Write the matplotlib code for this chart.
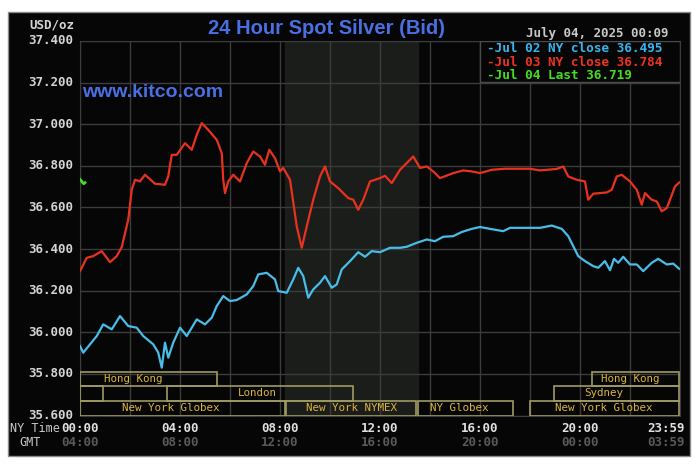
import matplotlib
matplotlib.use("Agg")
import matplotlib.pyplot as plt
from matplotlib.patches import Rectangle

# ---- data (hours NY time, USD/oz) ----
red_hours = [0.0, 0.27, 0.53, 0.87, 1.2, 1.47, 1.67, 1.93, 2.07, 2.2, 2.4, 2.6, 3.0, 3.4, 3.53,
             3.67, 3.87, 4.2, 4.47, 4.67, 4.87, 5.13, 5.47, 5.67, 5.73, 5.8, 5.93, 6.13, 6.4,
             6.67, 6.93, 7.2, 7.4, 7.57, 7.8, 8.0, 8.13, 8.4, 8.67, 8.87, 9.07, 9.33, 9.6, 9.8,
             10.0, 10.33, 10.73, 10.93, 11.13, 11.33, 11.6, 12.0, 12.2, 12.47, 12.8, 13.13,
             13.33, 13.6, 13.87, 14.13, 14.4, 14.93, 15.33, 15.67, 16.0, 16.47, 17.0, 18.0,
             18.4, 19.07, 19.33, 19.53, 19.87, 20.2, 20.33, 20.53, 21.07, 21.27, 21.47, 21.67,
             22.0, 22.27, 22.47, 22.6, 22.87, 23.07, 23.27, 23.47, 23.6, 23.8, 23.97]
red_vals = [36.294, 36.358, 36.366, 36.39, 36.337, 36.366, 36.41, 36.541, 36.685, 36.733,
            36.725, 36.757, 36.714, 36.709, 36.749, 36.853, 36.853, 36.909, 36.877, 36.949,
            37.005, 36.973, 36.925, 36.861, 36.733, 36.669, 36.725, 36.757, 36.725, 36.813,
            36.869, 36.845, 36.805, 36.877, 36.837, 36.773, 36.79, 36.733, 36.509, 36.406,
            36.509, 36.637, 36.749, 36.797, 36.725, 36.693, 36.645, 36.637, 36.589, 36.637,
            36.725, 36.741, 36.752, 36.717, 36.781, 36.821, 36.845, 36.79, 36.797, 36.773,
            36.741, 36.765, 36.778, 36.773, 36.765, 36.781, 36.786, 36.786, 36.778, 36.785,
            36.797, 36.749, 36.733, 36.725, 36.637, 36.666, 36.672, 36.685, 36.749, 36.757,
            36.725, 36.685, 36.613, 36.669, 36.637, 36.629, 36.581, 36.597, 36.637, 36.701,
            36.720]

blue_hours = [0.0, 0.13, 0.4, 0.67, 0.93, 1.27, 1.6, 1.93, 2.27, 2.53, 2.93, 3.13, 3.27, 3.4,
              3.53, 3.73, 4.0, 4.27, 4.67, 5.0, 5.27, 5.47, 5.73, 6.0, 6.27, 6.67, 6.93, 7.13,
              7.47, 7.8, 7.93, 8.27, 8.53, 8.73, 8.93, 9.13, 9.33, 9.6, 9.8, 10.07, 10.27,
              10.47, 10.8, 11.13, 11.4, 11.67, 12.0, 12.4, 12.8, 13.07, 13.47, 13.87, 14.2,
              14.53, 14.93, 15.27, 15.67, 16.0, 16.4, 16.93, 17.2, 18.4, 18.87, 19.27, 19.53,
              19.73, 19.93, 20.2, 20.53, 20.73, 21.0, 21.2, 21.36, 21.53, 21.73, 22.0, 22.27,
              22.53, 22.87, 23.13, 23.47, 23.73, 23.97]
blue_vals = [35.934, 35.902, 35.942, 35.982, 36.038, 36.014, 36.078, 36.030, 36.022, 35.982,
             35.942, 35.902, 35.830, 35.950, 35.878, 35.950, 36.022, 35.982, 36.062, 36.038,
             36.070, 36.126, 36.174, 36.150, 36.155, 36.182, 36.222, 36.278, 36.286, 36.254,
             36.198, 36.190, 36.254, 36.310, 36.270, 36.166, 36.206, 36.238, 36.270, 36.214,
             36.230, 36.302, 36.342, 36.385, 36.363, 36.390, 36.385, 36.406, 36.406, 36.411,
             36.430, 36.446, 36.438, 36.459, 36.462, 36.482, 36.497, 36.506, 36.497, 36.486,
             36.502, 36.502, 36.513, 36.497, 36.462, 36.414, 36.366, 36.342, 36.318, 36.310,
             36.342, 36.298, 36.353, 36.334, 36.363, 36.326, 36.326, 36.294, 36.334, 36.353,
             36.326, 36.330, 36.305]

green_hours = [0.0, 0.05, 0.1, 0.15, 0.2]
green_vals = [36.735, 36.728, 36.72, 36.714, 36.719]

legend_lines = ["-Jul 02 NY close 36.495", "-Jul 03 NY close 36.784", "-Jul 04 Last 36.719"]

y_ticks = [35.6, 35.8, 36.0, 36.2, 36.4, 36.6, 36.8, 37.0, 37.2, 37.4]
ny_ticks = ["00:00", "04:00", "08:00", "12:00", "16:00", "20:00", "23:59"]
gmt_ticks = ["04:00", "08:00", "12:00", "16:00", "20:00", "00:00", "03:59"]
tick_hours = [0, 4, 8, 12, 16, 20]

# sessions: (row, start, end, label, label centre)
sessions = [
    (2, 0.0, 5.48, "Hong Kong", 2.12),
    (2, 20.47, 23.97, "Hong Kong", 22.02),
    (1, 0.0, 0.93, "", 0),
    (1, 3.47, 10.93, "London", 7.1),
    (1, 18.96, 23.97, "Sydney", 20.96),
    (0, 0.0, 8.2, "New York Globex", 3.64),
    (0, 8.24, 13.44, "New York NYMEX", 10.88),
    (0, 13.53, 17.3, "NY Globex", 15.16),
    (0, 18.0, 23.97, "New York Globex", 20.94),
]
pit_start, pit_end = 8.2, 13.5

W, H = 700, 467
fx = lambda px: px / W
fy = lambda py: 1 - py / H

BG = "#060606"
GRID = "#3c3c3c"
MONO = "DejaVu Sans Mono"
BLUE, RED, GREEN = "#48bde8", "#e8321e", "#44dd22"

fig = plt.figure(figsize=(7, 4.67), dpi=100, facecolor="white")
fig.patches.append(Rectangle((fx(8), fy(456)), fx(682), 444 / H, transform=fig.transFigure,
                             facecolor=BG, edgecolor="#8a8a8a", lw=1, zorder=-5))

ax = fig.add_axes([fx(80), fy(415.5), 600 / W, 374.5 / H])
ax.set_zorder(2)
ax.set_facecolor(BG)
ax.set_xlim(0, 24)
ax.set_ylim(35.6, 37.4)
ax.axvspan(pit_start, pit_end, color="#1b1d1b", zorder=0)
for h in range(0, 25, 2):
    ax.axvline(h, color=GRID, lw=1, zorder=1)
for v in y_ticks:
    ax.axhline(v, color=GRID, lw=1, zorder=1)
for s in ax.spines.values():
    s.set_color(GRID)
ax.set_xticks([]); ax.set_yticks([])

ax.plot(blue_hours, blue_vals, color=BLUE, lw=1.6, zorder=3)
ax.plot(red_hours, red_vals, color=RED, lw=1.6, zorder=3)
ax.plot(green_hours, green_vals, color=GREEN, lw=2, zorder=3)

# session boxes
row_y = [0.0, 0.0395, 0.0796, 0.1154]
for row, a, b, lab, c in sessions:
    ax.add_patch(Rectangle((a, row_y[row]), b - a, row_y[row + 1] - row_y[row],
                           transform=ax.get_xaxis_transform(), fill=False,
                           edgecolor="#a09a62", lw=1.2, zorder=4))
    if lab:
        ax.text(c, (row_y[row] + row_y[row + 1]) / 2, lab, transform=ax.get_xaxis_transform(),
                ha="center", va="center", color="#dab43c", fontsize=7.8, family=MONO, zorder=5)

# legend box
ax.add_patch(Rectangle((2 / 3, 0.8905), 1 / 3, 0.1095, transform=ax.transAxes,
                       facecolor=BG, edgecolor="#4a4a4a", lw=1, zorder=6))
for i, (txt, col) in enumerate(zip(legend_lines, ["#3ab4ee", "#ee3322", "#44dd22"])):
    fig.text(fx(487), fy(48.5 + 13.5 * i), txt, color=col, fontsize=9.2, family=MONO,
             weight="bold", ha="left", va="center", zorder=7)

# y labels
for v in y_ticks:
    ax.text(-0.28, v, f"{v:.3f}", ha="right", va="center", color="#d4d4d4", fontsize=9,
            family=MONO, weight="bold", clip_on=False)
fig.text(fx(74), fy(25), "USD/oz", ha="right", va="center", color="#d4d4d4", fontsize=9,
         family=MONO, weight="bold")

# x labels
for h, ny, gmt in zip(tick_hours + [24.2], ny_ticks, gmt_ticks):
    ha = "right" if h > 24 else "center"
    fig.text(fx(80 + 25 * h), fy(428), ny, ha=ha, va="center", color="#e0e0e0", fontsize=9,
             family=MONO, weight="bold")
    fig.text(fx(80 + 25 * h), fy(442), gmt, ha=ha, va="center", color="#5a5a5a", fontsize=9,
             family=MONO, weight="bold")
fig.text(fx(10), fy(428), "NY Time", ha="left", va="center", color="#c8c8c8", fontsize=8.5,
         family=MONO)
fig.text(fx(19), fy(442), "GMT", ha="left", va="center", color="#c8c8c8", fontsize=8.5,
         family=MONO)

# titles
fig.text(fx(326.5), fy(29), "24 Hour Spot Silver (Bid)", ha="center", va="center",
         color="#4a6fe3", fontsize=14.5, weight="bold", family="Liberation Sans")
ax.text(0.003, 0.862, "www.kitco.com", transform=ax.transAxes, ha="left", va="center",
        color="#4a6fe3", fontsize=14, weight="bold", family="Liberation Sans", zorder=7)
fig.text(fx(668), fy(33), "July 04, 2025 00:09", ha="right", va="center", color="#c8c8c8",
         fontsize=9, family=MONO, weight="bold")

fig.savefig("out.png", dpi=100, facecolor="white")
